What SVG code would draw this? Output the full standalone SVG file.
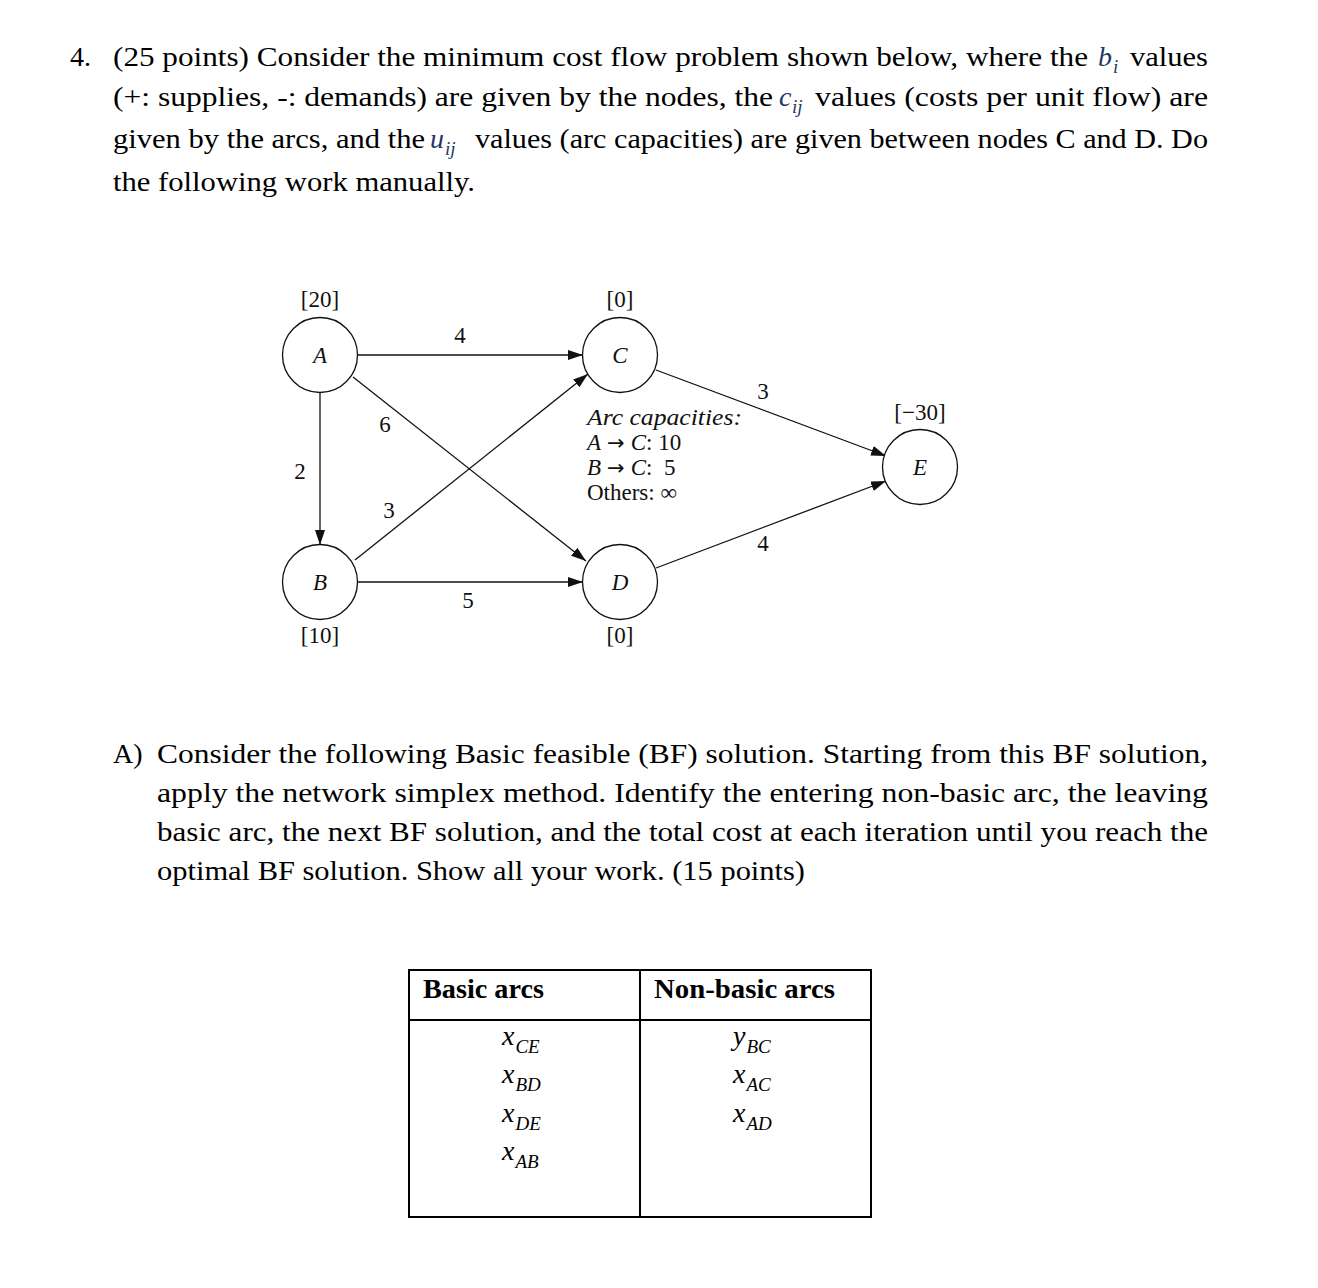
<svg xmlns="http://www.w3.org/2000/svg" width="1318" height="1288" viewBox="0 0 1318 1288">
<style>
.t{font-family:"Liberation Serif","DejaVu Serif",serif;font-size:28px;fill:#000}
.m{font-family:"Liberation Serif","DejaVu Serif",serif;font-style:italic;fill:#1f3864}
.d{font-family:"Liberation Serif","DejaVu Serif",serif;font-size:23px;fill:#111}
.i{font-style:italic}
.node{fill:#fff;stroke:#111;stroke-width:1.3}
.edge{stroke:#111;stroke-width:1.3;fill:none;marker-end:url(#ah)}
.h{font-family:"Liberation Serif","DejaVu Serif",serif;font-size:27px;font-weight:bold;fill:#000}
.x{font-family:"Liberation Serif","DejaVu Serif",serif;font-style:italic;fill:#000}
</style>
<defs>
<marker id="ah" viewBox="0 0 15 10" refX="15" refY="5" markerWidth="15" markerHeight="10" markerUnits="userSpaceOnUse" orient="auto">
<path d="M0,0 L15,5 L0,10 z" fill="#111"/>
</marker>
</defs>
<rect width="1318" height="1288" fill="#fff"/>

<g id="title">
<text class="t" x="70" y="66">4.</text>
<text class="t" x="113" y="66" textLength="975" lengthAdjust="spacingAndGlyphs">(25 points) Consider the minimum cost flow problem shown below, where the</text>
<text class="m" x="1098" y="66" font-size="28">b</text>
<text class="m" x="1113" y="73" font-size="19">i</text>
<text class="t" x="1130" y="66" textLength="78" lengthAdjust="spacingAndGlyphs">values</text>
<text class="t" x="113" y="106" textLength="660" lengthAdjust="spacingAndGlyphs">(+: supplies, -: demands) are given by the nodes, the</text>
<text class="m" x="779" y="106" font-size="28">c</text>
<text class="m" x="792" y="113" font-size="19">ij</text>
<text class="t" x="815" y="106" textLength="393" lengthAdjust="spacingAndGlyphs">values (costs per unit flow) are</text>
<text class="t" x="113" y="148" textLength="312" lengthAdjust="spacingAndGlyphs">given by the arcs, and the</text>
<text class="m" x="430" y="148" font-size="28">u</text>
<text class="m" x="445" y="155" font-size="19">ij</text>
<text class="t" x="475" y="148" textLength="733" lengthAdjust="spacingAndGlyphs">values (arc capacities) are given between nodes C and D. Do</text>
<text class="t" x="113" y="191" textLength="362" lengthAdjust="spacingAndGlyphs">the following work manually.</text>
</g>

<g id="connectors">
<line class="edge" x1="357" y1="355" x2="583" y2="355"/>
<line class="edge" x1="320" y1="393" x2="320" y2="545"/>
<line class="edge" x1="353" y1="377" x2="586" y2="561"/>
<line class="edge" x1="355" y1="560" x2="588" y2="374"/>
<line class="edge" x1="357" y1="582" x2="583" y2="582"/>
<line class="edge" x1="656" y1="370" x2="886" y2="456"/>
<line class="edge" x1="656" y1="568" x2="886" y2="481"/>
<text class="d" x="460" y="343" text-anchor="middle">4</text>
<text class="d" x="300" y="479" text-anchor="middle">2</text>
<text class="d" x="385" y="432" text-anchor="middle">6</text>
<text class="d" x="389" y="518" text-anchor="middle">3</text>
<text class="d" x="468" y="608" text-anchor="middle">5</text>
<text class="d" x="763" y="399" text-anchor="middle">3</text>
<text class="d" x="763" y="551" text-anchor="middle">4</text>
</g>

<g id="node-A">
<circle class="node" cx="320" cy="355" r="37.5"/>
<text class="d i" x="320" y="363" text-anchor="middle">A</text>
<text class="d" x="320" y="307" text-anchor="middle">[20]</text>
</g>
<g id="node-B">
<circle class="node" cx="320" cy="582" r="37.5"/>
<text class="d i" x="320" y="590" text-anchor="middle">B</text>
<text class="d" x="320" y="643" text-anchor="middle">[10]</text>
</g>
<g id="node-C">
<circle class="node" cx="620" cy="355" r="37.5"/>
<text class="d i" x="620" y="363" text-anchor="middle">C</text>
<text class="d" x="620" y="307" text-anchor="middle">[0]</text>
</g>
<g id="node-D">
<circle class="node" cx="620" cy="582" r="37.5"/>
<text class="d i" x="620" y="590" text-anchor="middle">D</text>
<text class="d" x="620" y="643" text-anchor="middle">[0]</text>
</g>
<g id="node-E">
<circle class="node" cx="920" cy="467" r="37.5"/>
<text class="d i" x="920" y="475" text-anchor="middle">E</text>
<text class="d" x="920" y="420" text-anchor="middle">[−30]</text>
</g>

<g id="capacities">
<text class="d i" x="587" y="425" textLength="155" lengthAdjust="spacingAndGlyphs">Arc capacities:</text>
<text class="d" x="587" y="450"><tspan font-style="italic">A</tspan><tspan font-family="DejaVu Sans, sans-serif" font-size="21" dx="6">→</tspan><tspan font-style="italic" dx="6">C</tspan>: 10</text>
<text class="d" x="587" y="475"><tspan font-style="italic">B</tspan><tspan font-family="DejaVu Sans, sans-serif" font-size="21" dx="6">→</tspan><tspan font-style="italic" dx="6">C</tspan>:&#160; 5</text>
<text class="d" x="587" y="500">Others: ∞</text>
</g>

<g id="partA">
<text class="t" x="113" y="763">A)</text>
<text class="t" x="157" y="763" textLength="1051" lengthAdjust="spacingAndGlyphs">Consider the following Basic feasible (BF) solution. Starting from this BF solution,</text>
<text class="t" x="157" y="802" textLength="1051" lengthAdjust="spacingAndGlyphs">apply the network simplex method. Identify the entering non-basic arc, the leaving</text>
<text class="t" x="157" y="841" textLength="1051" lengthAdjust="spacingAndGlyphs">basic arc, the next BF solution, and the total cost at each iteration until you reach the</text>
<text class="t" x="157" y="880" textLength="648" lengthAdjust="spacingAndGlyphs">optimal BF solution. Show all your work. (15 points)</text>
</g>

<g id="table">
<rect x="409" y="970" width="462" height="247" fill="none" stroke="#000" stroke-width="2"/>
<line x1="640" y1="970" x2="640" y2="1217" stroke="#000" stroke-width="2"/>
<line x1="409" y1="1020" x2="871" y2="1020" stroke="#000" stroke-width="2"/>
<text class="h" x="423" y="998" textLength="121" lengthAdjust="spacingAndGlyphs">Basic arcs</text>
<text class="h" x="654" y="998" textLength="181" lengthAdjust="spacingAndGlyphs">Non-basic arcs</text>
<text class="x" x="502" y="1045" font-size="28">x<tspan font-size="19" dx="1" dy="8">CE</tspan></text>
<text class="x" x="502" y="1083" font-size="28">x<tspan font-size="19" dx="1" dy="8">BD</tspan></text>
<text class="x" x="502" y="1122" font-size="28">x<tspan font-size="19" dx="1" dy="8">DE</tspan></text>
<text class="x" x="502" y="1160" font-size="28">x<tspan font-size="19" dx="1" dy="8">AB</tspan></text>
<text class="x" x="733" y="1045" font-size="28">y<tspan font-size="19" dx="1" dy="8">BC</tspan></text>
<text class="x" x="733" y="1083" font-size="28">x<tspan font-size="19" dx="1" dy="8">AC</tspan></text>
<text class="x" x="733" y="1122" font-size="28">x<tspan font-size="19" dx="1" dy="8">AD</tspan></text>
</g>
</svg>
